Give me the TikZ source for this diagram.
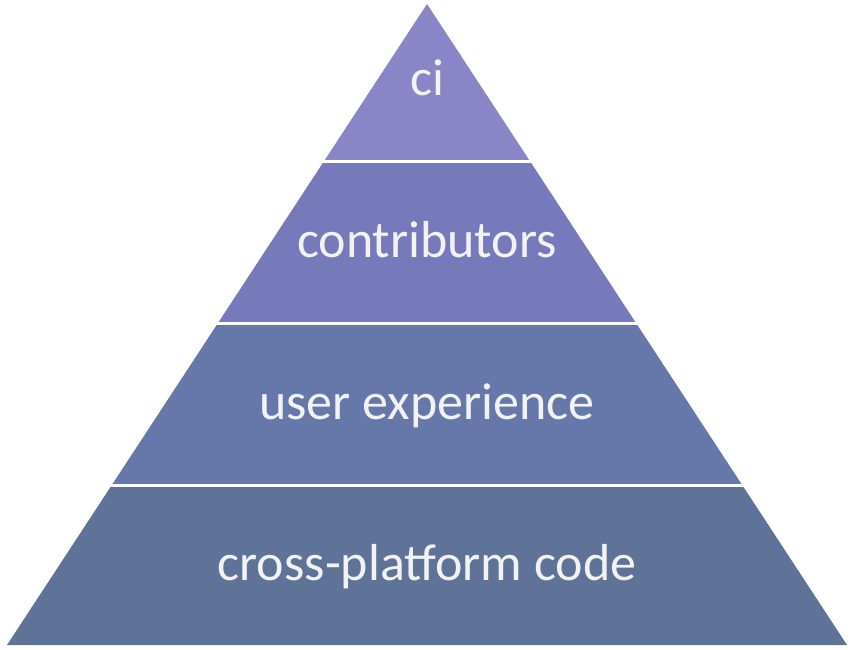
\documentclass[tikz,border=0pt]{standalone}
\usepackage{fontspec}
\setmainfont{Carlito}
\usetikzlibrary{calc}

\definecolor{layerA}{RGB}{137,133,198}
\definecolor{layerB}{RGB}{118,122,186}
\definecolor{layerC}{RGB}{102,119,170}
\definecolor{layerD}{RGB}{95,115,152}
\definecolor{labeltext}{RGB}{242,242,242}

\begin{document}
\begin{tikzpicture}[x=1pt,y=1pt]
    \tikzset{
        layer/.style = {draw=none},
        gap/.style = {draw=white, line width=3pt},
        label/.style = {text=labeltext, font=\fontsize{52}{60}\selectfont, anchor=base}
    }
    \useasboundingbox (0,0) rectangle (854,649);

    \coordinate (apex) at (427,645);
    \coordinate (bl) at (7,4);
    \coordinate (br) at (847,4);

    % layer boundaries
    \coordinate (l1) at ($(apex)!0.2457!(bl)$);
    \coordinate (r1) at ($(apex)!0.2457!(br)$);
    \coordinate (l2) at ($(apex)!0.4984!(bl)$);
    \coordinate (r2) at ($(apex)!0.4984!(br)$);
    \coordinate (l3) at ($(apex)!0.7512!(bl)$);
    \coordinate (r3) at ($(apex)!0.7512!(br)$);

    \fill[layer, layerA] (apex) -- (r1) -- (l1) -- cycle;
    \fill[layer, layerB] (l1) -- (r1) -- (r2) -- (l2) -- cycle;
    \fill[layer, layerC] (l2) -- (r2) -- (r3) -- (l3) -- cycle;
    \fill[layer, layerD] (l3) -- (r3) -- (br) -- (bl) -- cycle;

    \draw[gap] ($(l1)+(-5,0)$) -- ($(r1)+(5,0)$);
    \draw[gap] ($(l2)+(-5,0)$) -- ($(r2)+(5,0)$);
    \draw[gap] ($(l3)+(-5,0)$) -- ($(r3)+(5,0)$);

    \node[label](ci) at (427,553) {ci};
    \node[label](contrib) at (427,391) {contributors};
    \node[label](ux) at (427,230) {user experience};
    \node[label](code) at (427,69) {cross-platform code};
\end{tikzpicture}
\end{document}
